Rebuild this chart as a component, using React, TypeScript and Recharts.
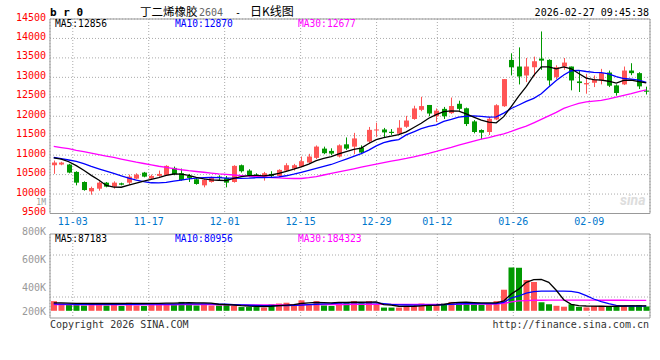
import React from 'react';
import { ComposedChart, Bar, Line, XAxis, YAxis, CartesianGrid, ReferenceArea, Cell } from 'recharts';

// trading days shown on the chart
const dates = [
  '10-29', '10-30', '10-31', '11-03', '11-04', '11-05', '11-06', '11-07', '11-10', '11-11',
  '11-12', '11-13', '11-14', '11-17', '11-18', '11-19', '11-20', '11-21', '11-24', '11-25',
  '11-26', '11-27', '11-28', '12-01', '12-02', '12-03', '12-04', '12-05', '12-08', '12-09',
  '12-10', '12-11', '12-12', '12-15', '12-16', '12-17', '12-18', '12-19', '12-22', '12-23',
  '12-24', '12-25', '12-26', '12-29', '12-30', '12-31', '01-05', '01-06', '01-07', '01-08',
  '01-09', '01-12', '01-13', '01-14', '01-15', '01-16', '01-19', '01-20', '01-21', '01-22',
  '01-23', '01-26', '01-27', '01-28', '01-29', '01-30', '02-02', '02-03', '02-04', '02-05',
  '02-06', '02-09', '02-10', '02-11', '02-12', '02-13', '02-24', '02-25', '02-26', '02-27',
];
const labelDates = ['11-03', '11-17', '12-01', '12-15', '12-29', '01-12', '01-26', '02-09'];

const open = [
  10741, 10759, 10759, 10569, 10310, 10069, 10138, 10293, 10190, 10276,
  10293, 10397, 10552, 10397, 10466, 10483, 10672, 10535, 10466, 10380,
  10224, 10310, 10448, 10414, 10310, 10741, 10603, 10500, 10448, 10517,
  10466, 10603, 10655, 10707, 10810, 10930, 11168, 11109, 10965, 11278,
  11219, 11193, 11350, 11640, 11660, 11600, 11550, 11730, 11930, 12165,
  12290, 12000, 12190, 12080, 12320, 12205, 11867, 11646, 11595, 11918,
  12258, 13448, 13278, 13048, 13260, 13482, 13448, 13005, 13278, 13278,
  12895, 12819, 12861, 12920, 13124, 12793, 12819, 13175, 13108, 12660,
];
const high = [
  10862, 10830, 10776, 10586, 10327, 10190, 10327, 10310, 10327, 10293,
  10500, 10534, 10569, 10500, 10603, 10741, 10707, 10655, 10517, 10431,
  10400, 10450, 10483, 10466, 10741, 10759, 10638, 10535, 10569, 10586,
  10638, 10793, 10776, 10965, 11034, 11250, 11219, 11176, 11278, 11455,
  11573, 11252, 11725, 11834, 11700, 11670, 11900, 12010, 12270, 12500,
  12290, 12200, 12240, 12480, 12400, 12223, 11901, 11663, 11986, 12309,
  12955, 13618, 13770, 13498, 13533, 14180, 13465, 13311, 13498, 13278,
  13175, 13090, 13048, 13218, 13175, 12819, 13278, 13363, 13133, 12760,
];
const low = [
  10520, 10741, 10534, 10224, 10086, 9983, 10086, 10172, 10138, 10224,
  10241, 10380, 10431, 10362, 10448, 10466, 10483, 10345, 10310, 10241,
  10172, 10293, 10362, 10172, 10293, 10552, 10448, 10448, 10345, 10431,
  10448, 10569, 10603, 10690, 10793, 10900, 11024, 11000, 10940, 11134,
  11024, 11024, 11300, 11470, 11440, 11520, 11530, 11700, 11910, 12130,
  12000, 11850, 11930, 12060, 12140, 11748, 11560, 11408, 11518, 11900,
  12240, 13050, 12818, 12878, 13022, 13193, 12785, 12955, 13193, 12666,
  12623, 12580, 12750, 12819, 12750, 12530, 12802, 13056, 12700, 12560,
];
const close = [
  10810, 10810, 10552, 10293, 10103, 10155, 10293, 10190, 10293, 10241,
  10448, 10500, 10448, 10466, 10517, 10724, 10517, 10362, 10414, 10259,
  10362, 10414, 10414, 10293, 10724, 10586, 10483, 10466, 10535, 10466,
  10621, 10741, 10741, 10845, 10965, 11220, 11050, 11041, 11252, 11168,
  11430, 11067, 11650, 11660, 11585, 11570, 11705, 11890, 12200, 12262,
  12070, 12145, 12000, 12263, 12190, 11800, 11595, 11578, 11935, 12283,
  12955, 13260, 13022, 13278, 13414, 13430, 12920, 13260, 13380, 12920,
  12853, 12853, 12938, 13110, 12785, 12598, 13175, 13108, 12768, 12631,
];

// moving averages as drawn
const ma5 = [
  10930, 10900, 10830, 10730, 10610, 10480, 10360, 10220, 10180, 10175,
  10230, 10280, 10330, 10380, 10420, 10480, 10515, 10510, 10480, 10430,
  10390, 10365, 10355, 10345, 10400, 10450, 10475, 10480, 10465, 10490,
  10530, 10585, 10640, 10700, 10770, 10860, 10920, 10960, 11030, 11090,
  11150, 11180, 11300, 11400, 11450, 11490, 11530, 11600, 11710, 11820,
  11950, 12040, 12120, 12140, 12130, 12060, 11980, 11900, 11850, 11830,
  11990, 12250, 12520, 12760, 13050, 13270, 13270, 13220, 13270, 13220,
  13100, 12980, 12940, 12930, 12900, 12850, 12920, 12930, 12890, 12856,
];
const ma10 = [
  10940, 10910, 10875, 10840, 10780, 10710, 10650, 10590, 10530, 10470,
  10410, 10360, 10320, 10290, 10285, 10300, 10330, 10360, 10390, 10410,
  10420, 10430, 10420, 10410, 10410, 10405, 10410, 10420, 10420, 10430,
  10440, 10470, 10510, 10560, 10610, 10660, 10710, 10760, 10830, 10900,
  10970, 11040, 11130, 11240, 11320, 11370, 11400, 11520, 11600, 11680,
  11740, 11780, 11870, 11920, 11980, 12000, 12010, 11995, 11975, 11985,
  12080, 12200, 12290, 12380, 12460, 12580, 12750, 12920, 13060, 13170,
  13180, 13150, 13130, 13120, 13090, 13020, 12970, 12955, 12930, 12870,
];
const ma30 = [
  11225, 11195, 11165, 11125, 11090, 11050, 11012, 10975, 10940, 10900,
  10860, 10820, 10785, 10750, 10715, 10685, 10655, 10625, 10600, 10580,
  10560, 10540, 10520, 10505, 10490, 10475, 10460, 10450, 10440, 10425,
  10415, 10405, 10400, 10400, 10420, 10450, 10490, 10530, 10570, 10610,
  10650, 10690, 10730, 10770, 10810, 10845, 10880, 10915, 10955, 11000,
  11045, 11095, 11150, 11200, 11255, 11310, 11360, 11410, 11450, 11500,
  11550, 11610, 11680, 11745, 11830, 11920, 12010, 12100, 12200, 12270,
  12330, 12370, 12390, 12410, 12445, 12490, 12535, 12580, 12630, 12677,
];

// volume, in thousands
const volume = [
  170, 128, 104, 113, 94, 128, 128, 94, 113, 85,
  142, 94, 85, 113, 128, 113, 113, 156, 128, 94,
  128, 94, 94, 113, 85, 66, 66, 66, 57, 113,
  128, 142, 113, 184, 113, 170, 94, 85, 152, 142,
  170, 133, 170, 123, 57, 57, 57, 85, 85, 128,
  85, 113, 128, 156, 142, 152, 113, 104, 128, 170,
  370, 760, 755, 540, 505, 150, 115, 88, 72, 115,
  70, 60, 85, 88, 70, 75, 90, 95, 100, 76,
];
const volMa5 = [
  140, 138, 135, 132, 130, 128, 130, 128, 130, 128,
  132, 130, 128, 130, 132, 135, 135, 140, 142, 140,
  138, 136, 115, 108, 102, 90, 82, 78, 76, 80,
  90, 100, 108, 128, 140, 148, 145, 140, 149, 148,
  150, 150, 152, 155, 110, 100, 80, 78, 80, 85,
  95, 100, 110, 140, 148, 150, 145, 140, 138, 140,
  172, 295, 380, 500, 546, 552, 500, 360, 195, 114,
  90, 84, 82, 80, 78, 80, 84, 86, 88, 87.183,
];
const volMa10 = [
  120, 118, 116, 115, 115, 114, 114, 113, 113, 114,
  115, 115, 116, 116, 117, 118, 118, 120, 122, 122,
  122, 120, 118, 116, 110, 104, 98, 94, 90, 90,
  90, 92, 95, 100, 108, 115, 120, 125, 135, 138,
  138, 140, 140, 138, 125, 112, 105, 102, 100, 100,
  100, 102, 110, 115, 120, 125, 126, 126, 125, 126,
  149, 225, 260, 310, 335, 347, 347, 347, 347, 340,
  318, 265, 207, 160, 125, 96, 84, 84, 83, 80.956,
];
const volMa30 = [
  108, 107, 107, 106, 106, 106, 105, 105, 105, 105,
  105, 105, 105, 105, 106, 106, 106, 107, 107, 107,
  107, 107, 106, 106, 106, 105, 105, 104, 104, 104,
  104, 104, 105, 106, 107, 108, 108, 109, 110, 111,
  112, 113, 114, 114, 114, 113, 112, 112, 112, 112,
  112, 112, 113, 114, 115, 116, 116, 116, 117, 118,
  130, 155, 175, 180, 185, 185, 186, 186, 186, 186,
  186, 186, 186, 185, 185, 185, 185, 184, 184, 184.323,
];

const priceTicks = [9500, 10000, 10500, 11000, 11500, 12000, 12500, 13000, 13500, 14000, 14500];
const volumeTicks = [200, 400, 600, 800];

const UP = '#ff5555';
const DOWN = '#009900';
const FRAME = '#999';
const MONO = '"DejaVu Sans Mono", monospace';

const n = dates.length;
const rows = dates.map((date, i) => ({
  i,
  date,
  open: open[i],
  high: high[i],
  low: low[i],
  close: close[i],
  range: [low[i], high[i]],
  ma5: ma5[i],
  ma10: ma10[i],
  ma30: ma30[i],
  vol: volume[i],
  vma5: volMa5[i],
  vma10: volMa10[i],
  vma30: volMa30[i],
}));

// sina spreads the date grid over n-1 steps while candles take n slots
const tickPos = labelDates.map((d) => (dates.indexOf(d) * n) / (n - 1) - 0.5);
const xDomain = [-0.5, n - 0.5];

// volume panel: zero sits a little above the bottom edge
const volDomain = [-126, 1347];
const q = (volDomain[1] - volDomain[0]) / 4;
const volGrid = [volDomain[0] + q, volDomain[0] + 2 * q, volDomain[0] + 3 * q];

const Candle = (props: any) => {
  const { x, y, width, height, payload } = props;
  if (height == null || !payload) return null;
  const top = Math.min(y, y + height);
  const h = Math.abs(height);
  const k = h / (payload.high - payload.low || 1);
  const yOf = (v: number) => top + (payload.high - v) * k;
  const color = payload.close >= payload.open ? UP : DOWN;
  const c = Math.round(x + width / 2);
  const bTop = yOf(Math.max(payload.open, payload.close));
  const bBot = yOf(Math.min(payload.open, payload.close));
  return (
    <g>
      <line x1={c + 0.5} x2={c + 0.5} y1={top} y2={top + h} stroke={color} strokeWidth={1} />
      <rect x={c - 2} y={bTop} width={5} height={Math.max(bBot - bTop, 1)} fill={color} />
    </g>
  );
};

const DateTick = ({ x, y, payload }: any) => (
  <text x={x} y={y + 7} textAnchor="middle" fill="#0077cc" fontSize={10} fontFamily={MONO}>
    {labelDates[tickPos.indexOf(payload.value)]}
  </text>
);

const PriceTick = ({ x, y, payload }: any) => (
  <text x={x} y={y + 1.5} textAnchor="end" fill="#ff0000" fontSize={10} fontFamily={MONO}>
    {payload.value}
  </text>
);

const VolumeTick = ({ x, y, payload, index }: any) => (
  <text x={x} y={y + (index === 0 ? -3.5 : 0.5)} textAnchor="end" fill="#999" fontSize={10} fontFamily={MONO}>
    {payload.value}K
  </text>
);

const last = n - 1;

const App = () => {
  return (
    <div style={{ position: 'absolute', left: 0, top: 0, width: 660, height: 360, background: '#fff' }}>
      <div style={{ position: 'absolute', left: 0, top: 0 }}>
        <ComposedChart width={660} height={360} data={rows} margin={{ top: 19, right: 10, bottom: 132.5, left: 0 }}>
          <CartesianGrid stroke="#aaa" strokeDasharray="1 2" />
          <XAxis
            type="number"
            dataKey="i"
            domain={xDomain}
            ticks={tickPos}
            interval={0}
            height={14}
            tickSize={0}
            tickMargin={4}
            tickLine={false}
            axisLine={false}
            tick={<DateTick />}
          />
          <YAxis
            domain={[9500, 14500]}
            ticks={priceTicks}
            interval={0}
            width={50}
            tickSize={0}
            tickMargin={4}
            tickLine={false}
            axisLine={false}
            tick={<PriceTick />}
          />
          <ReferenceArea x1={-0.5} x2={n - 0.5} y1={9500} y2={14500} fill="none" stroke={FRAME} />
          <Bar dataKey="range" barSize={5} shape={(p: any) => <Candle {...p} />} isAnimationActive={false} />
          <Line dataKey="ma30" stroke="#ff00ff" strokeWidth={1.3} dot={false} activeDot={false} isAnimationActive={false} />
          <Line dataKey="ma10" stroke="#0000ff" strokeWidth={1.3} dot={false} activeDot={false} isAnimationActive={false} />
          <Line dataKey="ma5" stroke="#000" strokeWidth={1.3} dot={false} activeDot={false} isAnimationActive={false} />
        </ComposedChart>
      </div>

      <div style={{ position: 'absolute', left: 0, top: 0 }}>
        <ComposedChart width={660} height={360} data={rows} margin={{ top: 234, right: 10, bottom: 42, left: 0 }}>
          <CartesianGrid yAxisId="vol" horizontalValues={volGrid} stroke="#aaa" strokeDasharray="1 2" />
          <XAxis type="number" dataKey="i" domain={xDomain} ticks={tickPos} interval={0} hide />
          <YAxis yAxisId="vol" domain={volDomain} hide />
          <YAxis
            yAxisId="lbl"
            domain={[200, 800]}
            allowDataOverflow
            ticks={volumeTicks}
            interval={0}
            width={50}
            tickSize={0}
            tickMargin={4}
            tickLine={false}
            axisLine={false}
            tick={<VolumeTick />}
          />
          <ReferenceArea yAxisId="vol" x1={-0.5} x2={n - 0.5} y1={volDomain[0]} y2={volDomain[1]} fill="none" stroke={FRAME} />
          <Bar yAxisId="vol" dataKey="vol" barSize={6} isAnimationActive={false}>
            {rows.map((r) => (
              <Cell key={r.i} fill={r.close >= r.open ? UP : DOWN} />
            ))}
          </Bar>
          {/* carries the label axis, draws nothing */}
          <Line yAxisId="lbl" dataKey="vol" stroke="none" dot={false} activeDot={false} isAnimationActive={false} />
          <Line yAxisId="vol" dataKey="vma30" stroke="#ff00ff" strokeWidth={1.3} dot={false} activeDot={false} isAnimationActive={false} />
          <Line yAxisId="vol" dataKey="vma10" stroke="#0000ff" strokeWidth={1.3} dot={false} activeDot={false} isAnimationActive={false} />
          <Line yAxisId="vol" dataKey="vma5" stroke="#000" strokeWidth={1.3} dot={false} activeDot={false} isAnimationActive={false} />
        </ComposedChart>
      </div>

      <svg width={660} height={360} style={{ position: 'absolute', left: 0, top: 0, pointerEvents: 'none' }}>
        <text x={50} y={16} fontSize={11} fontWeight="bold" fontFamily={MONO}>b r 0</text>
        <text x={140} y={15.5} fontSize={11.5} fontFamily='"Noto Sans CJK SC"'>丁二烯橡胶</text>
        <text x={199} y={15.5} fontSize={10} fill="#666" fontFamily={MONO}>2604</text>
        <text x={235} y={15.5} fontSize={10} fontFamily={MONO}>-</text>
        <text x={250} y={15.5} fontSize={12} fontFamily='"Noto Sans CJK SC"'>日K线图</text>
        <text x={649} y={15.5} fontSize={10} textAnchor="end" fontFamily={MONO}>2026-02-27 09:45:38</text>

        <text x={55} y={27} fontSize={9.6} fontFamily={MONO} fill="#000">MA5:{ma5[last]}</text>
        <text x={175} y={27} fontSize={9.6} fontFamily={MONO} fill="#0000ff">MA10:{ma10[last]}</text>
        <text x={298} y={27} fontSize={9.6} fontFamily={MONO} fill="#ff00ff">MA30:{ma30[last]}</text>

        <text x={46} y={205} fontSize={8} textAnchor="end" fill="#999" fontFamily={MONO}>1M</text>
        <text x={620} y={205} fontSize={14} fontStyle="italic" fontWeight="bold" fill="#ddd" fontFamily="Roboto">sina</text>

        <text x={55} y={242} fontSize={9.6} fontFamily={MONO} fill="#000">MA5:{Math.round(volMa5[last] * 1000)}</text>
        <text x={175} y={242} fontSize={9.6} fontFamily={MONO} fill="#0000ff">MA10:{Math.round(volMa10[last] * 1000)}</text>
        <text x={298} y={242} fontSize={9.6} fontFamily={MONO} fill="#ff00ff">MA30:{Math.round(volMa30[last] * 1000)}</text>

        <text x={50} y={327.5} fontSize={10} fill="#333" fontFamily={MONO}>Copyright 2026 SINA.COM</text>
        <text x={649} y={327.5} fontSize={10} textAnchor="end" fill="#333" fontFamily={MONO}>http://finance.sina.com.cn</text>
      </svg>
    </div>
  );
};

export default App;
